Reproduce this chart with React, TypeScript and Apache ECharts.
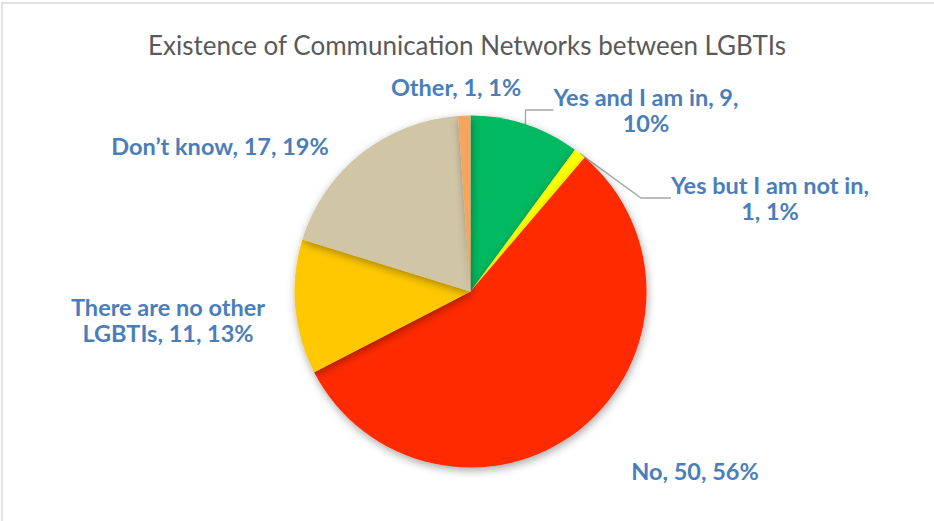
import React, { useEffect, useRef } from "react";
import * as echarts from "echarts";

const title = "Existence of Communication Networks between LGBTIs";
const categories = ["Yes and I am in", "Yes but I am not in", "No", "There are no other LGBTIs", "Don\u2019t know", "Other"];
const values = [9, 1, 50, 11, 17, 1];
const percentLabels = ["10%", "1%", "56%", "13%", "19%", "1%"];
const labelTexts = [
  "Yes and I am in, 9,\n10%",
  "Yes but I am not in,\n1, 1%",
  "No, 50, 56%",
  "There are no other\nLGBTIs, 11, 13%",
  "Don\u2019t know, 17, 19%",
  "Other, 1, 1%",
];
const colors = ["#00B960", "#FFFF00", "#FF2A00", "#FFC800", "#D0C6A6", "#F6A55E"];
const labelPos: [number, number][] = [
  [646, 110],
  [770, 198],
  [695, 471],
  [168, 320],
  [220, 146],
  [456, 87],
];
const showLine = [true, true, false, false, false, false];

export default function App() {
  const ref = useRef<HTMLDivElement>(null);
  useEffect(() => {
    if (!ref.current) return;
    const chart = echarts.init(ref.current, null, { renderer: "svg" });
    chart.setOption({
      animation: false,
      backgroundColor: "#ffffff",
      title: {
        text: title,
        left: "center",
        top: 27,
        textStyle: { color: "#595959", fontSize: 26, fontWeight: "normal", fontFamily: "Lato" },
      },
      graphic: [
        {
          type: "rect",
          shape: { x: 2, y: 3, width: 1000, height: 600 },
          style: { fill: "none", stroke: "#d9d9d9", lineWidth: 1.5 },
          z: 100,
        },
      ],
      series: [
        {
          type: "pie",
          center: [470.5, 291.5],
          radius: 176,
          startAngle: 90,
          clockwise: true,
          avoidLabelOverlap: false,
          itemStyle: {
            shadowBlur: 8,
            shadowColor: "rgba(0,0,0,0.35)",
            shadowOffsetX: 1,
            shadowOffsetY: 3,
          },
          label: {
            show: true,
            position: "outside",
            fontFamily: "Lato",
            fontWeight: "bold",
            fontSize: 23.5,
            lineHeight: 26,
            color: "#4A7EBB",
            align: "center",
            formatter: (p: any) => labelTexts[p.dataIndex],
          },
          labelLine: { show: true, lineStyle: { color: "#A6A6A6", width: 1.3 }, length: 20, length2: 30 },
          labelLayout: (p: any) => ({
            x: labelPos[p.dataIndex][0],
            y: labelPos[p.dataIndex][1],
            align: "center",
            verticalAlign: "middle",
          }),
          emphasis: { disabled: true },
          data: categories.map((c, i) => ({
            name: c,
            value: values[i],
            percent: percentLabels[i],
            itemStyle: { color: colors[i] },
            labelLine: { show: showLine[i] },
          })),
        },
      ],
    });
    return () => chart.dispose();
  }, []);
  return <div ref={ref} style={{ position: "absolute", left: 0, top: 0, width: 934, height: 521 }} />;
}
